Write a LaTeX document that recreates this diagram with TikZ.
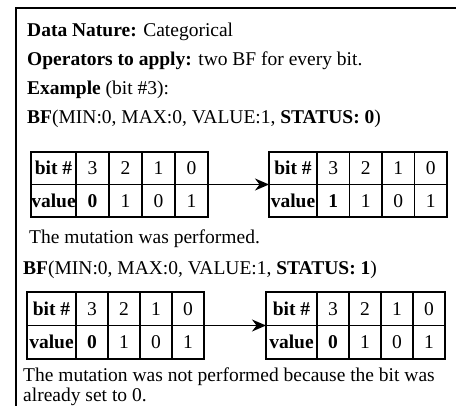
\documentclass[tikz,border=0pt]{standalone}
\usepackage{fontspec}
\setmainfont{Liberation Serif}
\usetikzlibrary{arrows.meta}

% one bit table: name, left, top, first width, cell width, row height, bit 3 value
\newcommand{\bittab}[7]{%
\node[cell, minimum width=#4, minimum height=#6, anchor=north west] (#1-h) at (#2,#3) {\textbf{bit \#}};
\node[cell, minimum width=#4, minimum height=#6, anchor=north] (#1-v) at (#1-h.south) {\textbf{value}};
\foreach \bn/\bv [count=\i from 0] in {3/{\textbf{#7}},2/1,1/0,0/1} {
  \node[cell, minimum width=#5, minimum height=#6, anchor=north west] (#1-h\bn) at (#2+#4+\i*#5,#3) {\bn};
  \node[cell, minimum width=#5, minimum height=#6, anchor=north] (#1-v\bn) at (#1-h\bn.south) {\bv};
}
}

\begin{document}
\begin{tikzpicture}[x=1pt, y=-1pt,
  font=\fontsize{19.5}{21}\selectfont,
  txt/.style={anchor=base west, inner sep=0pt},
  cell/.style={draw, line width=1.3pt, inner sep=0pt, outer sep=0pt},
  arr/.style={line width=1.6pt, -{Stealth[length=14pt, width=12pt]}}]
\useasboundingbox (0,0) rectangle (456,406);
% frame
\draw [line width=1.5pt] (16,406) -- (16,8) -- (456,8);

\node[txt] (nature) at (27,37) {\textbf{Data Nature:} Categorical};
\node[txt] (ops) at (27,66) {\textbf{Operators to apply:} two BF for every bit.};
\node[txt] (ex) at (27,95) {\textbf{Example} (bit \#3):};
\node[txt] (bfa) at (27,124) {\textbf{BF}(MIN:0, MAX:0, VALUE:1, \textbf{STATUS: 0})};

\bittab{ta}{31}{152}{45}{33}{32.5}{0}
\bittab{tb}{269}{152}{48}{32.5}{32.5}{1}
\draw [arr] (ta-h0.south east) -- (tb-h.south west);

\node[txt] (done) at (29,244) {The mutation was performed.};
\node[txt] (bfb) at (23,275) {\textbf{BF}(MIN:0, MAX:0, VALUE:1, \textbf{STATUS: 1})};

\bittab{tc}{27}{292}{49}{32}{33.5}{0}
\bittab{td}{266}{292}{51}{32}{33.5}{0}
\draw [arr] (tc-h0.south east) -- (td-h.south west);

\node[txt] (notdone) at (23,382) {The mutation was not performed because the bit was};
\node[txt] (notdone2) at (23,402) {already set to 0.};
\end{tikzpicture}
\end{document}
